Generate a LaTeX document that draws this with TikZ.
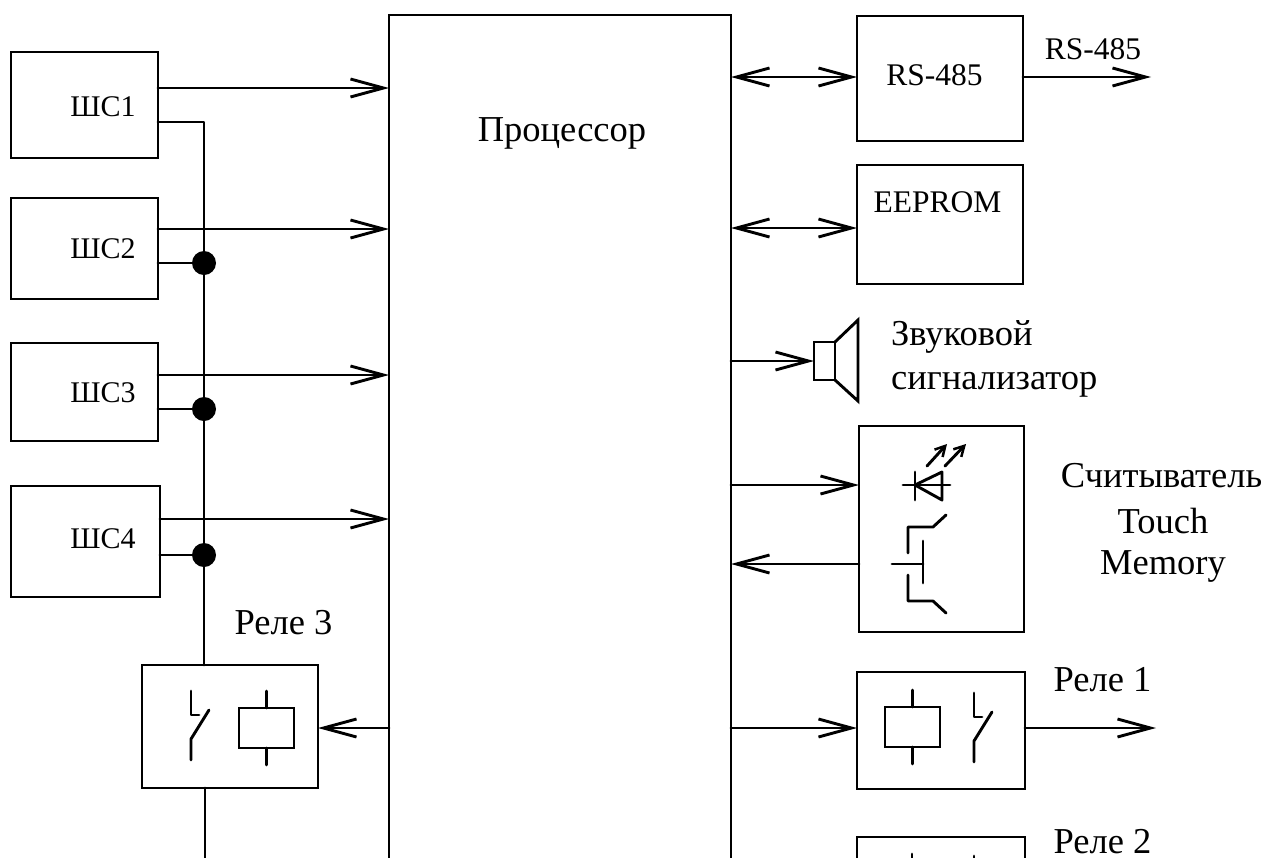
\documentclass[tikz,border=0pt]{standalone}
\usepackage{fontspec}
\setmainfont{Liberation Serif}
\usetikzlibrary{arrows.meta}
\tikzset{
  x=1pt,y=-1pt,
  wire/.style={line width=2.9pt,black,line cap=round,line join=round},
  arr/.style={wire,-{Straight Barb[length=33pt,width=18pt,line width=2.9pt]}},
  darr/.style={wire,{Straight Barb[length=33pt,width=18pt,line width=2.9pt]}-{Straight Barb[length=33pt,width=18pt,line width=2.9pt]}},
  ledarr/.style={wire,-{Straight Barb[length=10pt,width=11pt,line width=2.5pt]}},
  box/.style={draw,line width=2.9pt,outer sep=0pt,inner sep=0pt,line join=miter},
  dotnode/.style={circle,fill=black,minimum size=24pt,inner sep=0pt,outer sep=0pt},
  big/.style={inner sep=0pt,anchor=base,font=\fontsize{36.5}{42}\selectfont},
  mid/.style={inner sep=0pt,anchor=base,font=\fontsize{31.5}{38}\selectfont},
  small/.style={inner sep=0pt,anchor=base,font=\fontsize{30}{36}\selectfont},
}
\begin{document}
\begin{tikzpicture}
\useasboundingbox (0,0) rectangle (1271,857);
\clip (0,0) rectangle (1271,857);
% main boxes
\node[box,minimum width=342pt,minimum height=960pt,anchor=north west] (proc) at (389,15) {};
\node[box,minimum width=147pt,minimum height=106pt] (s1) at (84.5,105) {};
\node[box,minimum width=147pt,minimum height=101pt] (s2) at (84.5,248.5) {};
\node[box,minimum width=147pt,minimum height=98pt] (s3) at (84.5,392) {};
\node[box,minimum width=149pt,minimum height=111pt] (s4) at (85.5,541.5) {};
\node[box,minimum width=176pt,minimum height=123pt] (r3) at (230,726.5) {};
\node[box,minimum width=166pt,minimum height=125pt] (rs) at (940,78.5) {};
\node[box,minimum width=166pt,minimum height=119pt] (ee) at (940,224.5) {};
\node[box,minimum width=165pt,minimum height=206pt] (tm) at (941.5,529) {};
\node[box,minimum width=168pt,minimum height=117pt] (r1) at (941,730.5) {};
\node[box,minimum width=168pt,minimum height=117pt,anchor=north] (r2) at (941,837) {};
% labels
\node[big] (lproc) at (562,141) {Процессор};
\node[small] (l1) at (103,116) {ШС1};
\node[small] (l2) at (103,258) {ШС2};
\node[small] (l3) at (103,402) {ШС3};
\node[small] (l4) at (103,548) {ШС4};
\node[mid] (lrs) at (934.5,85) {RS-485};
\node[mid] (lrso) at (1093,59) {RS-485};
\node[mid] (lee) at (937.5,212) {EEPROM};
\node[big] (lr3) at (283.5,634) {Реле 3};
\node[big] (lr1) at (1102.5,691) {Реле 1};
\node[big] (lr2) at (1102.5,853) {Реле 2};
\node[big,anchor=base west] (ls1) at (891,345) {Звуковой};
\node[big,anchor=base west] (ls2) at (891,389) {сигнализатор};
\node[big] (lt1) at (1161.5,487) {Считыватель};
\node[big] (lt2) at (1163,533) {Touch};
\node[big] (lt3) at (1163,574) {Memory};
% left arrows
\draw[arr] (s1.east |- 0,88) -- (proc.west |- 0,88);
\draw[arr] (s2.east |- 0,229) -- (proc.west |- 0,229);
\draw[arr] (s3.east |- 0,375) -- (proc.west |- 0,375);
\draw[arr] (s4.east |- 0,519) -- (proc.west |- 0,519);
% bus
\node[dotnode] (d2) at (204,263) {};
\node[dotnode] (d3) at (204,409) {};
\node[dotnode] (d4) at (204,555) {};
\coordinate (b1) at (204,122);
\draw[wire] (s1.east |- b1) -- (b1) -- (b1 |- r3.north);
\draw[wire] (s2.east |- d2) -- (d2);
\draw[wire] (s3.east |- d3) -- (d3);
\draw[wire] (s4.east |- d4) -- (d4);
\coordinate (b2) at (205,870);
\draw[wire] (b2 |- r3.south) -- (b2);
% relay 3
\draw[arr] (proc.west |- 0,728) -- (r3.east |- 0,728);
\draw[wire] (191,691) -- (191,715) -- (199,715);
\draw[wire] (209,710) -- (191,739) -- (191,760);
\node[box,minimum width=55pt,minimum height=40pt] (c3) at (266.5,728) {};
\draw[wire] (c3.north) -- ++(0,-17);
\draw[wire] (c3.south) -- ++(0,17);
% right side arrows
\draw[darr] (proc.east |- 0,77) -- (rs.west |- 0,77);
\draw[arr] (rs.east |- 0,77) -- ++(128,0) coordinate (o1);
\draw[darr] (proc.east |- 0,228) -- (ee.west |- 0,228);
% speaker
\node[box,minimum width=21pt,minimum height=38pt] (sp) at (824.5,361) {};
\draw[box] (sp.north east) -- (858,320) -- (858,401) -- (sp.south east);
\draw[arr] (proc.east |- sp.west) -- (sp.west);
% reader
\draw[arr] (proc.east |- 0,485) -- (tm.west |- 0,485);
\draw[arr] (tm.west |- 0,564) -- (proc.east |- 0,564);
\draw[wire] (903,485) -- (950,485);
\draw[wire] (915,472) -- (915,500);
\draw[wire] (915,485) -- (942,472) -- (942,500) -- cycle;
\draw[ledarr] (927,466) -- (947,444);
\draw[ledarr] (945,466) -- (966,444);
\draw[wire] (923,541) -- (923,583);
\draw[wire] (892,564) -- (923,564);
\draw[wire] (908,553) -- (908,527) -- (933,527) -- (946,515);
\draw[wire] (908,575) -- (908,601) -- (933,601) -- (946,613);
% relay 1
\draw[arr] (proc.east |- 0,728) -- (r1.west |- 0,728);
\draw[arr] (r1.east |- 0,728) -- ++(131,0) coordinate (o2);
\node[box,minimum width=55pt,minimum height=40pt] (c1) at (912.5,727) {};
\draw[wire] (c1.north) -- ++(0,-17);
\draw[wire] (c1.south) -- ++(0,17);
\draw[wire] (974,693) -- (974,717) -- (982,717);
\draw[wire] (992,712) -- (974,741) -- (974,762);
% relay 2 stubs
\draw[wire] (912,854) -- (912,870);
\draw[wire] (974,856) -- (974,870);
\end{tikzpicture}
\end{document}
